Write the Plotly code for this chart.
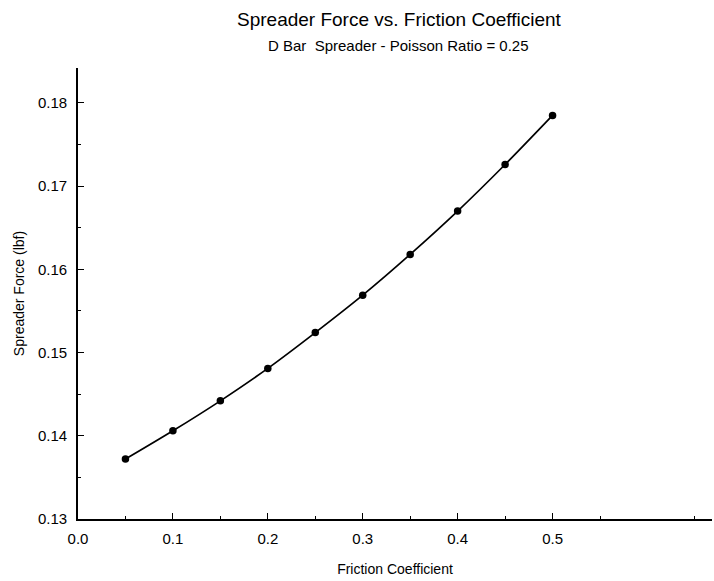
import plotly.graph_objects as go

friction = [0.05, 0.10, 0.15, 0.20, 0.25, 0.30, 0.35, 0.40, 0.45, 0.50]
force = [0.1372, 0.1406, 0.1442, 0.1481, 0.1524, 0.1569, 0.1618, 0.1670, 0.1726, 0.1785]

x_ticks = [0.0, 0.1, 0.2, 0.3, 0.4, 0.5]
x_tick_labels = ["0.0", "0.1", "0.2", "0.3", "0.4", "0.5"]
y_ticks = [0.13, 0.14, 0.15, 0.16, 0.17, 0.18]
y_tick_labels = ["0.13", "0.14", "0.15", "0.16", "0.17", "0.18"]

font_family = "Liberation Sans, Arial, sans-serif"

W, H = 714, 581
L, R, T, B = 78, 2, 68, 62
pw = W - L - R
ph = H - T - B


def px_x(x):
    return (x - L) / pw


def px_y(y):
    return (H - y - B) / ph


fig = go.Figure()
fig.add_trace(go.Scatter(
    x=friction, y=force, mode="lines+markers",
    line=dict(color="black", width=1.7, shape="spline", smoothing=0.8),
    marker=dict(color="black", size=7.5, symbol="circle"),
    showlegend=False,
))

fig.update_layout(
    width=W, height=H,
    paper_bgcolor="white", plot_bgcolor="white",
    margin=dict(l=L, r=R, t=T, b=B),
    font=dict(family=font_family, color="black", size=14),
    annotations=[
        dict(text="Spreader Force vs. Friction Coefficient", x=px_x(400), y=px_y(19),
             xref="paper", yref="paper", xanchor="center", yanchor="middle",
             showarrow=False, font=dict(size=19)),
        dict(text="D Bar  Spreader - Poisson Ratio = 0.25", x=px_x(398), y=px_y(46),
             xref="paper", yref="paper", xanchor="center", yanchor="middle",
             showarrow=False, font=dict(size=15)),
    ],
)

fig.update_xaxes(
    range=[0, 0.668], tickvals=x_ticks, ticktext=x_tick_labels,
    showgrid=False, zeroline=False, showline=True, linecolor="black", linewidth=1.6,
    ticks="inside", ticklen=6, tickcolor="black", ticklabelstandoff=5,
    minor=dict(tickvals=[0.05, 0.15, 0.25, 0.35, 0.45, 0.55, 0.65], ticks="inside", ticklen=3, tickcolor="black"),
    tickfont=dict(size=15), automargin=False,
    title=dict(text="Friction Coefficient", font=dict(size=14), standoff=18),
)
fig.update_yaxes(
    range=[0.13, 0.1842], tickvals=y_ticks, ticktext=y_tick_labels,
    showgrid=False, zeroline=False, showline=True, linecolor="black", linewidth=1.6,
    ticks="inside", ticklen=6, tickcolor="black", ticklabelstandoff=6,
    minor=dict(tickvals=[0.135, 0.145, 0.155, 0.165, 0.175], ticks="inside", ticklen=3, tickcolor="black"),
    tickfont=dict(size=15), automargin=False,
    title=dict(text="Spreader Force (lbf)", font=dict(size=14), standoff=10),
)

fig.write_html("out.html", config={"displayModeBar": False},
               post_script="document.body.style.margin='0';")
